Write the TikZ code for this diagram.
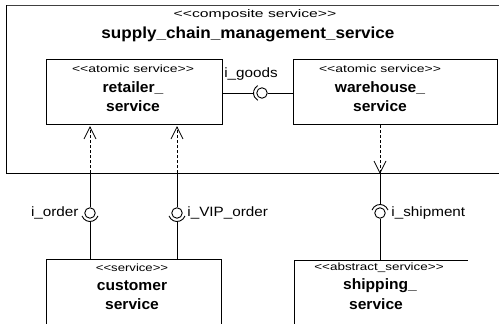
\documentclass[tikz,border=0pt]{standalone}
\usepackage{fontspec}
\setmainfont{Liberation Sans}
\usetikzlibrary{arrows.meta}
\newcommand{\hstr}[2]{\scalebox{#1}[1]{#2}}
\begin{document}
\begin{tikzpicture}[x=1pt,y=1pt,
  line width=0.9pt,
  ster/.style={inner sep=0pt,font=\fontsize{10.5}{11}\selectfont},
  ttl/.style={inner sep=0pt,font=\fontsize{15}{16}\bfseries\selectfont},
  lbl/.style={inner sep=0pt,font=\fontsize{13.5}{14}\selectfont},
  dep/.style={dash pattern=on 3pt off 2pt},
  ball/.style={draw,circle,minimum size=10.5pt,inner sep=0pt},
  vhead/.style={line width=0.8pt}]
\useasboundingbox (0,0) rectangle (499,-324);
\clip (0,0) rectangle (499,-324);
% composite
\draw[draw=black!75] (6,-5) -- (520,-5);
\draw (6,-5) -- (6,-173) -- (520,-173);
\node[ster,font=\fontsize{11}{12}\selectfont] (cst) at (255,-15) {\hstr{1.43}{<{}<composite service>{}>}};
\node[ttl,font=\fontsize{16}{17}\bfseries\selectfont] (ctt) at (248,-34) {\hstr{1.07}{supply\_chain\_management\_service}};
% retailer
\node[draw,minimum width=176pt,minimum height=65pt,anchor=north west,inner sep=0pt] (ret) at (46,-59) {};
\node[ster] at (133,-69) {\hstr{1.33}{<{}<atomic service>{}>}};
\node[ttl] at (133,-88) {\hstr{1.04}{retailer\_}};
\node[ttl] at (133,-106) {\hstr{1.04}{service}};
% warehouse
\node[draw,minimum width=204pt,minimum height=65pt,anchor=north west,inner sep=0pt] (war) at (293,-59) {};
\node[ster] at (380,-69) {\hstr{1.33}{<{}<atomic service>{}>}};
\node[ttl] at (380,-88) {\hstr{1.04}{warehouse\_}};
\node[ttl] at (380,-106) {\hstr{1.04}{service}};
% customer
\node[draw,minimum width=175pt,minimum height=90pt,anchor=north west,inner sep=0pt] (cus) at (46,-259) {};
\node[ster] at (132,-268) {\hstr{1.25}{<{}<service>{}>}};
\node[ttl] at (132,-286) {\hstr{1.04}{customer}};
\node[ttl] at (132,-304) {\hstr{1.04}{service}};
% shipping
\coordinate (shl) at (294,-330);
\coordinate (shtl) at (294,-260);
\coordinate (shtr) at (468,-260);
\draw (shl) -- (shtl) -- (shtr);
\node[ster] at (379,-268) {\hstr{1.28}{<{}<abstract\_service>{}>}};
\node[ttl] at (380,-286) {\hstr{1.04}{shipping\_}};
\node[ttl] at (376,-304) {\hstr{1.04}{service}};
% i_goods
\node[ball] (bg) at (262,-93) {};
\draw (ret.east |- bg) -- ++(31.5,0) coordinate (sg);
\draw ([shift={(120:8.5)}]bg.center) arc[start angle=120,end angle=240,radius=8.5];
\draw (bg.east) -- (war.west |- bg);
\node[lbl] at (251,-74) {\hstr{1.13}{i\_goods}};
% ports on composite
\coordinate (p1) at (90,-173);
\coordinate (p2) at (177,-173);
\coordinate (p3) at (380,-173);
% dependencies
\coordinate (t1) at ([yshift=-2pt]ret.south -| p1);
\coordinate (t2) at ([yshift=-2pt]ret.south -| p2);
\draw[dep] (p1) -- (t1);
\draw[dep] (p2) -- (t2);
\draw[vhead] ([shift={(-6,-12)}]t1) -- (t1) -- ([shift={(6,-12)}]t1);
\draw[vhead] ([shift={(-6,-12)}]t2) -- (t2) -- ([shift={(6,-12)}]t2);
\draw[dep] (war.south -| p3) -- (p3);
\draw[vhead] ([shift={(-6,12)}]p3) -- (p3) -- ([shift={(6,12)}]p3);
% i_order
\node[ball] (bo) at (90,-213) {};
\draw (p1) -- (bo.north);
\draw ([shift={(200:8.5)}]bo.center) arc[start angle=200,end angle=340,radius=8.5];
\draw ([yshift=-8.5pt]bo.center) -- (cus.north -| bo);
\node[lbl,anchor=east] at (79,-213) {\hstr{1.13}{i\_order}};
% i_VIP_order
\node[ball] (bv) at (177,-213) {};
\draw (p2) -- (bv.north);
\draw ([shift={(200:8.5)}]bv.center) arc[start angle=200,end angle=340,radius=8.5];
\draw ([yshift=-8.5pt]bv.center) -- (cus.north -| bv);
\node[lbl,anchor=west] at (187,-213) {\hstr{1.13}{i\_VIP\_order}};
% i_shipment
\node[ball] (bs) at (380,-213) {};
\draw (p3) -- ([yshift=8.5pt]bs.center);
\draw ([shift={(20:8.5)}]bs.center) arc[start angle=20,end angle=160,radius=8.5];
\draw (bs.south) -- (shtl -| bs);
\node[lbl,anchor=west] at (391,-213) {\hstr{1.13}{i\_shipment}};
\end{tikzpicture}
\end{document}
